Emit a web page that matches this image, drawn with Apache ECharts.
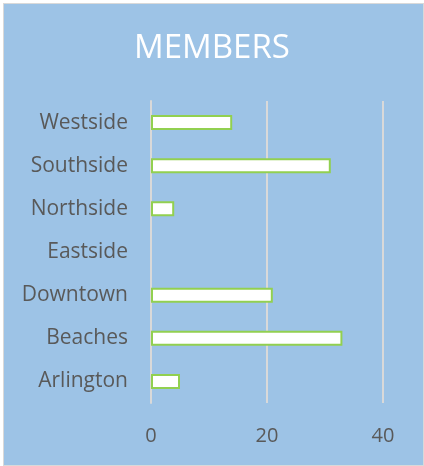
<!DOCTYPE html>
<html>
<head>
<meta charset="utf-8">
<script src="https://cdn.jsdelivr.net/npm/echarts@6/dist/echarts.min.js"></script>
<style>
    body{
        margin: 0;
        background: #ffffff;
    }
    .frame{
        position: absolute;
        left: 3px;
        top: 3px;
        width: 419px;
        height: 461px;
        border: 1px solid #d9d9d9;
        background: #9dc3e6;
    }
    #myChart{
        position: absolute;
        left: 0;
        top: 0;
        width: 424px;
        height: 466px;
    }
</style>
</head>
<body>
<div class="frame"></div>
<div id="myChart"></div>
<script>
    // data
    var regions = ['Arlington', 'Beaches', 'Downtown', 'Eastside', 'Northside', 'Southside', 'Westside'];
    var members = [5, 33, 21, 0, 4, 31, 14];
    var xTicks = [0, 20, 40];

    var font = '"Open Sans", sans-serif';
    var myChart = echarts.init(document.getElementById('myChart'));
    myChart.setOption({
        backgroundColor: 'transparent',
        animation: false,
        title: {
            text: 'MEMBERS',
            left: 'center',
            top: 27,
            textStyle: {
                color: '#ffffff',
                fontSize: 33,
                fontWeight: 'normal',
                fontFamily: font
            }
        },
        grid: {
            left: 151,
            right: 41,
            top: 101,
            bottom: 63
        },
        xAxis: {
            type: 'value',
            min: xTicks[0],
            max: xTicks[xTicks.length - 1],
            interval: xTicks[1] - xTicks[0],
            axisLine: {show: false},
            axisTick: {show: false},
            axisLabel: {
                color: '#595959',
                fontSize: 20,
                fontFamily: font,
                margin: 23
            },
            splitLine: {
                lineStyle: {color: '#d9d9d9', width: 2}
            }
        },
        yAxis: {
            type: 'category',
            data: regions,
            axisLine: {
                show: true,
                lineStyle: {color: '#d9d9d9', width: 2}
            },
            axisTick: {show: false},
            axisLabel: {
                color: '#595959',
                fontSize: 21,
                fontFamily: font,
                margin: 23
            }
        },
        series: [
            {
                type: 'bar',
                name: 'MEMBERS',
                data: members.map(function (v) {
                    return v === 0 ? {value: v, itemStyle: {borderWidth: 0}} : v;
                }),
                barWidth: 15,
                itemStyle: {
                    color: '#ffffff',
                    borderColor: '#92d050',
                    borderWidth: 2
                }
            }
        ]
    });
</script>
</body>
</html>
